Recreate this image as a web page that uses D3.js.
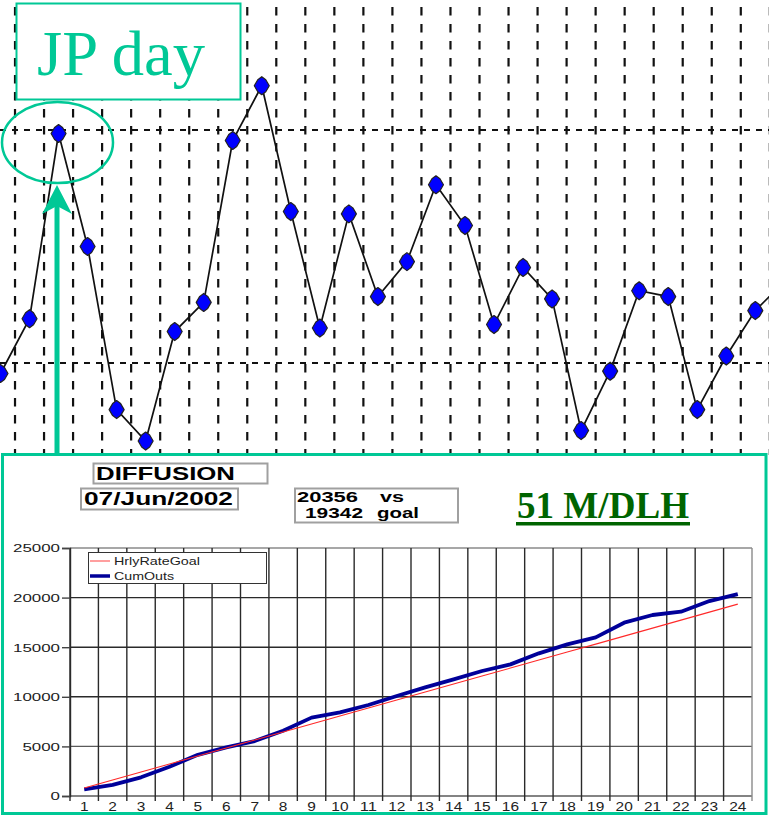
<!DOCTYPE html>
<html><head><meta charset="utf-8">
<script src="https://cdn.jsdelivr.net/npm/d3@7"></script>
<style>body{margin:0;background:#fff}svg{display:block}</style>
</head><body>
<script>
// ---------- DATA ----------
// Top chart: hourly values (arbitrary units), reference levels
const topValues = [791,838,997,900,760,733,827,852,991,1038,930,830,928,857,887,953,918,833,882,855,742,793,862,857,760,806,845,870];
const topRefLevels = [800, 1000];
const topLabel = "JP day";

// Bottom chart
const hours = [1,2,3,4,5,6,7,8,9,10,11,12,13,14,15,16,17,18,19,20,21,22,23,24];
const hrlyRateGoal = [806,1612,2418,3224,4030,4836,5641,6447,7253,8059,8865,9671,10477,11283,12089,12895,13701,14507,15312,16118,16924,17730,18536,19342];
const cumOuts = [675,1120,1885,2950,4150,4900,5540,6580,7900,8435,9170,10080,10955,11760,12600,13270,14380,15290,15995,17470,18245,18580,19650,20356];
const yTickValues = [0,5000,10000,15000,20000,25000];
const seriesNames = ["HrlyRateGoal","CumOuts"];
const titleText = "DIFFUSION";
const dateText = "07/Jun/2002";
const actualText = "20356", vsText = "vs", goalValText = "19342", goalText = "goal";
const rateText = "51 M/DLH";

// ---------- DRAW ----------
const W = 769, H = 815;
const teal = "#00c896";
const svg = d3.select("body").append("svg").attr("width", W).attr("height", H);
svg.append("rect").attr("width", W).attr("height", H).attr("fill", "#fff");

// ----- top chart -----
const topG = svg.append("g");
const xTop = d3.scaleLinear().domain([0, 26]).range([0.5, 755.3]);
const yTop = d3.scaleLinear().domain([800, 1000]).range([363, 130]);

const vGrid = d3.range(0, 27).map(i => i + 0.5);
topG.selectAll("line.vg").data(vGrid).join("line")
  .attr("x1", d => xTop(d)).attr("x2", d => xTop(d))
  .attr("y1", 0).attr("y2", 455)
  .attr("stroke", "#111").attr("stroke-width", 2.2)
  .attr("stroke-dasharray", "8.5,8.5").attr("stroke-dashoffset", 10);
topG.selectAll("line.hg").data(topRefLevels).join("line")
  .attr("x1", 0).attr("x2", W)
  .attr("y1", d => yTop(d)).attr("y2", d => yTop(d))
  .attr("stroke", "#111").attr("stroke-width", 2.2)
  .attr("stroke-dasharray", "6,6");

topG.append("path").datum(topValues)
  .attr("d", d3.line().x((d, i) => xTop(i)).y(d => yTop(d)))
  .attr("fill", "none").attr("stroke", "#111").attr("stroke-width", 1.7);

const marker = "M0,-9 L4,-6 L7.5,0 L4,6 L0,9 L-4,6 L-7.5,0 L-4,-6 Z";
topG.selectAll("path.pt").data(topValues).join("path")
  .attr("transform", (d, i) => `translate(${xTop(i)},${yTop(d)})`)
  .attr("d", marker)
  .attr("fill", "#0000ff").attr("stroke", "#222").attr("stroke-width", 1.2).attr("stroke-linejoin", "round");

// annotations
svg.append("rect").attr("x", 16.5).attr("y", 3.5).attr("width", 224).attr("height", 96)
  .attr("fill", "#fff").attr("stroke", teal).attr("stroke-width", 2);
svg.append("text").attr("x", 37).attr("y", 75).text(topLabel)
  .attr("font-family", "Liberation Serif, serif").attr("font-size", 64).attr("fill", teal)
  .attr("textLength", 168).attr("lengthAdjust", "spacingAndGlyphs");
svg.append("ellipse").attr("cx", 57.5).attr("cy", 142.5).attr("rx", 55.5).attr("ry", 40.5)
  .attr("fill", "none").attr("stroke", teal).attr("stroke-width", 2.5);

// ----- bottom panel -----
svg.append("rect").attr("x", 2.5).attr("y", 454.5).attr("width", 763.5).attr("height", 359)
  .attr("fill", "#fff").attr("stroke", teal).attr("stroke-width", 3);

// arrow
svg.append("line").attr("x1", 57).attr("x2", 57).attr("y1", 456).attr("y2", 200)
  .attr("stroke", teal).attr("stroke-width", 5);
svg.append("path").attr("d", "M57,185 L72,214 L57,206 L42,214 Z").attr("fill", teal);

// header boxes
function box(x, y, w, h) {
  svg.append("rect").attr("x", x).attr("y", y).attr("width", w).attr("height", h)
    .attr("fill", "#fff").attr("stroke", "#a0a0a0").attr("stroke-width", 2);
}
function btext(str, x, y, size, len) {
  svg.append("text").attr("x", x).attr("y", y).text(str)
    .attr("font-family", "Liberation Sans, Arial, sans-serif").attr("font-weight", "bold")
    .attr("font-size", size).attr("fill", "#000")
    .attr("textLength", len).attr("lengthAdjust", "spacingAndGlyphs");
}
box(93.5, 463.5, 174, 20);
btext(titleText, 96, 480, 19, 139);
box(81, 488.5, 157, 21);
btext(dateText, 84, 505, 19, 149);
box(295, 488.5, 163, 34);
btext(actualText, 297, 502, 15.5, 61);
btext(vsText, 380, 502, 15.5, 24);
btext(goalValText, 305, 518, 15.5, 58);
btext(goalText, 377, 518, 15.5, 42);

svg.append("text").attr("x", 517).attr("y", 518).text(rateText)
  .attr("font-family", "Liberation Serif, serif").attr("font-weight", "bold")
  .attr("font-size", 37).attr("fill", "#006400")
  .attr("textLength", 172).attr("lengthAdjust", "spacingAndGlyphs");
svg.append("rect").attr("x", 516).attr("y", 522).attr("width", 174).attr("height", 3.5).attr("fill", "#006400");

// ----- bottom chart -----
const xB = d3.scaleBand().domain(hours).range([70, 752]).paddingInner(0).paddingOuter(0);
const yB = d3.scaleLinear().domain([0, 25000]).range([796, 548]);
const chart = svg.append("g");

// horizontal gridlines
chart.selectAll("line.hgrid").data(yTickValues).join("line")
  .attr("x1", 70).attr("x2", 752)
  .attr("y1", d => yB(d)).attr("y2", d => yB(d))
  .attr("stroke", d => (d === 25000 ? "#8a8a8a" : (d === 5000 || d === 0 ? "#5a5a5a" : "#2a2a2a")))
  .attr("stroke-width", 1.4);
// vertical gridlines at band boundaries
const bounds = hours.map(h => xB(h)).concat([xB(24) + xB.bandwidth()]);
chart.selectAll("line.vgrid").data(bounds).join("line")
  .attr("x1", d => d).attr("x2", d => d).attr("y1", 548).attr("y2", 801)
  .attr("stroke", (d, i) => (i === bounds.length - 1 ? "#8a8a8a" : "#2a2a2a")).attr("stroke-width", 1.4);

// y axis
const yAxis = chart.append("g").attr("transform", "translate(70,0)")
  .call(d3.axisLeft(yB).tickValues(yTickValues).tickSize(8).tickPadding(2).tickFormat(d3.format("d")));
yAxis.select(".domain").attr("stroke", "#2a2a2a").attr("stroke-width", 1.4);
yAxis.selectAll(".tick line").attr("stroke", "#444").attr("stroke-width", 1.4);
yAxis.selectAll(".tick text")
  .attr("font-family", "Liberation Sans, Arial, sans-serif").attr("font-size", 11).attr("fill", "#222")
  .attr("dy", "0.36em")
  .attr("textLength", d => String(d).length * 9.4).attr("lengthAdjust", "spacingAndGlyphs");

// x axis labels
const xAxis = chart.append("g").attr("transform", "translate(0,796)")
  .call(d3.axisBottom(xB).tickSize(0).tickPadding(6.5));
xAxis.select(".domain").remove();
xAxis.selectAll(".tick text")
  .attr("font-family", "Liberation Sans, Arial, sans-serif").attr("font-size", 12).attr("fill", "#222")
  .attr("textLength", d => String(d).length * 8.6).attr("lengthAdjust", "spacingAndGlyphs");

// series lines
const lineGen = data => d3.line().x((d, i) => xB(hours[i]) + xB.bandwidth() / 2).y(d => yB(d))(data);
chart.append("path").attr("d", lineGen(cumOuts))
  .attr("fill", "none").attr("stroke", "#000099").attr("stroke-width", 3.8).attr("stroke-linejoin", "round");
chart.append("path").attr("d", lineGen(hrlyRateGoal))
  .attr("fill", "none").attr("stroke", "#ff2a2a").attr("stroke-width", 1.1);

// legend
const lg = chart.append("g");
lg.append("rect").attr("x", 88.5).attr("y", 552.5).attr("width", 178).attr("height", 31)
  .attr("fill", "#fff").attr("stroke", "#333").attr("stroke-width", 1);
const legendColors = ["#ff7f7f", "#000099"], legendW = [1.5, 3.5], legendLen = [86, 60];
seriesNames.forEach((n, i) => {
  const y = 561 + i * 15;
  lg.append("line").attr("x1", 90).attr("x2", 110).attr("y1", y).attr("y2", y)
    .attr("stroke", legendColors[i]).attr("stroke-width", legendW[i]);
  lg.append("text").attr("x", 114).attr("y", y + 3.5).text(n)
    .attr("font-family", "Liberation Sans, Arial, sans-serif").attr("font-size", 11).attr("fill", "#222")
    .attr("textLength", legendLen[i]).attr("lengthAdjust", "spacingAndGlyphs");
});
</script>
</body></html>
